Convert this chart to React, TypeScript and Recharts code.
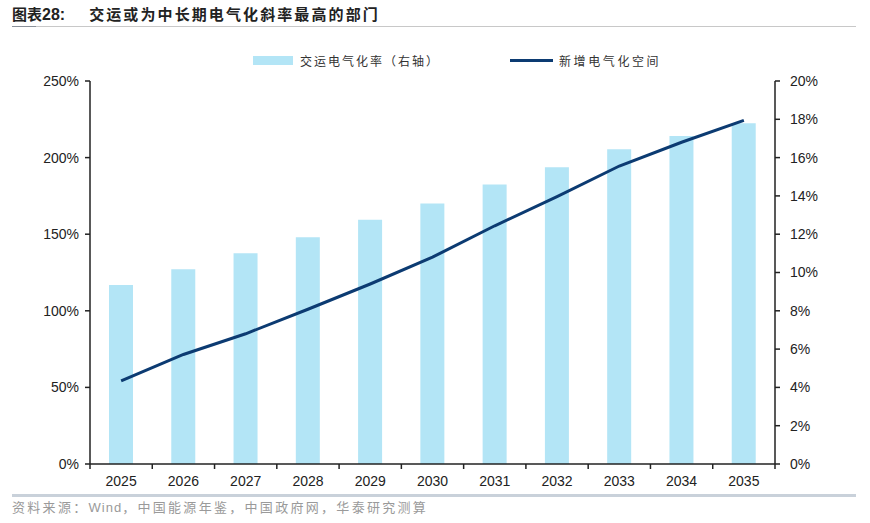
import React from "react";
import { ComposedChart, Bar, Line, XAxis, YAxis } from "recharts";

// Years on the category axis
const years = ["2025", "2026", "2027", "2028", "2029", "2030", "2031", "2032", "2033", "2034", "2035"];
// 交运电气化率 (%), plotted against the right axis
const transportRate = [9.35, 10.17, 11.0, 11.84, 12.75, 13.6, 14.6, 15.5, 16.43, 17.13, 17.8];
// 新增电气化空间 (%), plotted against the left axis
const newSpace = [54.3, 71.5, 85, 101, 117.5, 135, 155.5, 174.5, 194.5, 210, 224.3];
// Axis tick values
const leftTicks = [0, 50, 100, 150, 200, 250];
const rightTicks = [0, 2, 4, 6, 8, 10, 12, 14, 16, 18, 20];

const data = years.map((year, i) => ({
  year,
  rate: transportRate[i],
  space: newSpace[i],
}));

const BAR_COLOR = "#B3E5F6";
const LINE_COLOR = "#0C3B72";
const AXIS_COLOR = "#222";
const LATIN = "'Liberation Sans', Arial, sans-serif";
const CJK = "'Noto Sans CJK SC', 'Noto Sans', sans-serif";

// Category labels centred in each band, with tick marks on band boundaries
const YearTick = (props: any) => {
  const { x, y, payload, index } = props;
  const half = payload.offset || 0;
  const last = index === years.length - 1;
  return (
    <g>
      <line x1={x - half} x2={x - half} y1={y - 8} y2={y - 3} stroke={AXIS_COLOR} strokeWidth={1.5} />
      {last && (
        <line x1={x + half} x2={x + half} y1={y - 8} y2={y - 3} stroke={AXIS_COLOR} strokeWidth={1.5} />
      )}
      <text x={x} y={y + 14} textAnchor="middle" fontSize={14} fill="#222" fontFamily={LATIN}>
        {payload.value}
      </text>
    </g>
  );
};

export default function App() {
  return (
    <div style={{ position: "absolute", left: 0, top: 0, width: 870, height: 523, background: "#fff", overflow: "hidden" }}>
      {/* Title */}
      <div
        style={{
          position: "absolute",
          left: 12,
          top: 4,
          fontFamily: CJK,
          fontWeight: 700,
          fontSize: 15,
          color: "#222",
          whiteSpace: "nowrap",
          lineHeight: "20px",
        }}
      >
        <span style={{ letterSpacing: 0 }}>
          图表<span style={{ fontFamily: LATIN, fontSize: 16 }}>28:</span>
        </span>
        <span style={{ marginLeft: 24, letterSpacing: 2.1 }}>交运或为中长期电气化斜率最高的部门</span>
      </div>
      <div style={{ position: "absolute", left: 12, top: 26, width: 844, height: 1, background: "#C8C8C8" }} />
      <div style={{ position: "absolute", left: 12, top: 26, width: 24, height: 1, background: "#8A9099" }} />

      {/* Legend */}
      <div style={{ position: "absolute", left: 253, top: 50, height: 20, display: "flex", alignItems: "center", fontFamily: CJK, fontSize: 12, color: "#333", whiteSpace: "nowrap" }}>
        <span style={{ display: "inline-block", width: 40, height: 9, background: BAR_COLOR, marginRight: 7 }} />
        <span style={{ letterSpacing: 2 }}>交运电气化率（右轴）</span>
      </div>
      <div style={{ position: "absolute", left: 510, top: 50, height: 20, display: "flex", alignItems: "center", fontFamily: CJK, fontSize: 12, color: "#333", whiteSpace: "nowrap" }}>
        <span style={{ display: "inline-block", width: 43, height: 3, background: LINE_COLOR, marginRight: 6 }} />
        <span style={{ letterSpacing: 2.6 }}>新增电气化空间</span>
      </div>

      <div style={{ position: "absolute", left: 0, top: 0 }}>
        <ComposedChart width={870} height={523} data={data} margin={{ top: 81, right: 0, bottom: 29, left: 0 }}>
          <XAxis
            dataKey="year"
            xAxisId="x"
            height={30}
            axisLine={{ stroke: AXIS_COLOR, strokeWidth: 1.5 }}
            tickLine={false}
            tick={<YearTick />}
            interval={0}
          />
          <YAxis
            yAxisId="left"
            orientation="left"
            width={90}
            domain={[0, 250]}
            ticks={leftTicks}
            interval={0}
            tickFormatter={(v: number) => `${v}%`}
            axisLine={{ stroke: AXIS_COLOR, strokeWidth: 1.5 }}
            tickLine={{ stroke: AXIS_COLOR, strokeWidth: 1.5 }}
            tickSize={5}
            tickMargin={6}
            tick={{ fontSize: 14, fill: "#222", fontFamily: LATIN }}
          />
          <YAxis
            yAxisId="right"
            orientation="right"
            width={95}
            domain={[0, 20]}
            ticks={rightTicks}
            interval={0}
            tickFormatter={(v: number) => `${v}%`}
            axisLine={{ stroke: AXIS_COLOR, strokeWidth: 1.5 }}
            tickLine={{ stroke: AXIS_COLOR, strokeWidth: 1.5 }}
            tickSize={5}
            tickMargin={10}
            tick={{ fontSize: 14, fill: "#222", fontFamily: LATIN }}
          />
          <Bar dataKey="rate" xAxisId="x" yAxisId="right" fill={BAR_COLOR} barSize={24} isAnimationActive={false} />
          <Line
            dataKey="space"
            xAxisId="x"
            yAxisId="left"
            type="linear"
            stroke={LINE_COLOR}
            strokeWidth={3}
            dot={false}
            activeDot={false}
            isAnimationActive={false}
          />
        </ComposedChart>
      </div>

      {/* Footer */}
      <div style={{ position: "absolute", left: 12, top: 494, width: 844, height: 3, background: "#C9D1DA" }} />
      <div style={{ position: "absolute", left: 12, top: 498, fontFamily: CJK, fontSize: 13, color: "#9A9A9A", letterSpacing: 2.3, whiteSpace: "nowrap", lineHeight: "18px" }}>
        资料来源：<span style={{ fontFamily: LATIN, letterSpacing: 1 }}>Wind</span>，中国能源年鉴，中国政府网，华泰研究测算
      </div>
    </div>
  );
}
